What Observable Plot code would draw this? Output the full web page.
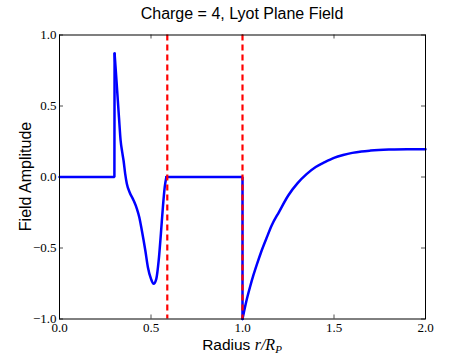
<!DOCTYPE html>
<html>
<head>
<meta charset="utf-8">
<script src="https://cdn.jsdelivr.net/npm/d3@7"></script>
<script src="https://cdn.jsdelivr.net/npm/@observablehq/plot@0.6"></script>
<style>
  html, body { margin: 0; padding: 0; background: #fff; }
  #title { width: 484px; height: 28px; line-height: 28px; text-align: center;
           font-family: "Liberation Sans", Arial, sans-serif; font-size: 16px; color: #000; }
</style>
</head>
<body>
<div id="title">Charge = 4, Lyot Plane Field</div>
<div id="chart"></div>
<script>
const titleText = "Charge = 4, Lyot Plane Field";
const xLabel = "Radius ";
const yLabel = "Field Amplitude";

// radius r/R_P
const radius = [0, 0.3, 0.3, 0.301,
  0.301, 0.306, 0.315, 0.325, 0.334, 0.342, 0.350, 0.359, 0.368, 0.383, 0.405, 0.423, 0.436, 0.450, 0.469, 0.483, 0.500, 0.514, 0.529, 0.542, 0.554, 0.565, 0.575, 0.584,
  0.584, 1.0, 1.0,
  1.0, 1.02, 1.04, 1.06, 1.08, 1.1, 1.13, 1.16, 1.2, 1.25, 1.3, 1.35, 1.4, 1.45, 1.5, 1.55, 1.6, 1.65, 1.7, 1.8, 1.9, 2.0];
// field amplitude
const field = [0, 0, 0, 0.87,
  0.87, 0.78, 0.61, 0.42, 0.257, 0.18, 0.116, 0.022, -0.048, -0.107, -0.165, -0.224, -0.283, -0.377, -0.518, -0.635, -0.717, -0.752, -0.717, -0.588, -0.40, -0.213, -0.072, 0,
  0, 0, -1.0,
  -1.0, -0.88, -0.78, -0.69, -0.61, -0.535, -0.435, -0.34, -0.245, -0.13, -0.045, 0.02, 0.07, 0.105, 0.135, 0.155, 0.17, 0.18, 0.186, 0.193, 0.196, 0.195];
// piece of the trace each point belongs to (straight pieces vs smooth pieces)
const piece = [0, 0, 0, 0,
  1, 1, 1, 1, 1, 1, 1, 1, 1, 1, 1, 1, 1, 1, 1, 1, 1, 1, 1, 1, 1, 1, 1, 1,
  2, 2, 2,
  3, 3, 3, 3, 3, 3, 3, 3, 3, 3, 3, 3, 3, 3, 3, 3, 3, 3, 3, 3, 3, 3];

const markers = [0.589, 1.0];
const xTicks = [0, 0.5, 1.0, 1.5, 2.0];
const yTicks = [-1.0, -0.5, 0.0, 0.5, 1.0];

const data = radius.map((r, i) => ({r, f: field[i], p: piece[i]}));
const straight = data.filter(d => d.p % 2 === 0);
const smooth = data.filter(d => d.p % 2 === 1);
const fmt = d => d.toFixed(1).replace("-", "\u2212");

const W = 472, H = 326;
const mT = 6.5, mB = 35.5, mL = 59, mR = 47;
const innerH = H - mT - mB, innerW = W - mL - mR;
const tl = 4;
const serif = "'Liberation Serif', 'Times New Roman', serif";
const sans = "'Liberation Sans', Arial, sans-serif";

const chart = Plot.plot({
  width: W, height: H,
  marginTop: mT, marginBottom: mB, marginLeft: mL, marginRight: mR,
  style: {fontFamily: serif, fontSize: "13px", color: "#000", background: "#fff"},
  x: {domain: [0, 2]},
  y: {domain: [-1, 1]},
  marks: [
    Plot.axisX(xTicks, {tickSize: 0, tickPadding: 4, tickFormat: fmt, label: null, fill: "#000"}),
    Plot.axisY(yTicks, {tickSize: 0, tickPadding: 3, tickFormat: fmt, label: null, fill: "#000"}),
    Plot.tickX(xTicks, {x: d => d, insetTop: innerH - tl, stroke: "#222", strokeWidth: 0.8}),
    Plot.tickX(xTicks, {x: d => d, insetBottom: innerH - tl, stroke: "#222", strokeWidth: 0.8}),
    Plot.tickY(yTicks, {y: d => d, insetRight: innerW - tl, stroke: "#222", strokeWidth: 0.8}),
    Plot.tickY(yTicks, {y: d => d, insetLeft: innerW - tl, stroke: "#222", strokeWidth: 0.8}),
    Plot.line(straight, {x: "r", y: "f", z: "p", stroke: "#0000ff", strokeWidth: 2.5, strokeLinejoin: "miter", strokeLinecap: "round"}),
    Plot.line(smooth, {x: "r", y: "f", z: "p", curve: "monotone-x", stroke: "#0000ff", strokeWidth: 2.5, strokeLinecap: "round"}),
    Plot.ruleX(markers, {x: d => d, stroke: "#ff0000", strokeWidth: 2.2, strokeDasharray: "6,4"}),
    Plot.frame({stroke: "#000", strokeWidth: 1})
  ]
});

const svg = d3.select(chart);
svg.selectAll("g[aria-label$='tick label']")
  .attr("font-family", serif)
  .attr("font-size", 13)
  .style("font-family", serif)
  .style("font-size", "13px");

const xl = svg.append("text")
  .attr("x", mL + innerW / 2)
  .attr("y", H - 4)
  .attr("text-anchor", "middle")
  .style("font-size", "15.5px")
  .style("fill", "#000");
xl.append("tspan").style("font-family", sans).text(xLabel);
xl.append("tspan").style("font-family", serif).style("font-style", "italic").style("font-size", "16px").text("r/R");
xl.append("tspan").style("font-family", serif).style("font-style", "italic")
  .style("font-size", "11px").attr("dy", "3").text("P");

svg.append("text")
  .attr("transform", `translate(25,${mT + innerH / 2}) rotate(-90)`)
  .attr("text-anchor", "middle")
  .attr("dominant-baseline", "central")
  .style("font-family", sans)
  .style("font-size", "16px")
  .style("fill", "#000")
  .text(yLabel);

document.getElementById("chart").appendChild(chart);
</script>
</body>
</html>
